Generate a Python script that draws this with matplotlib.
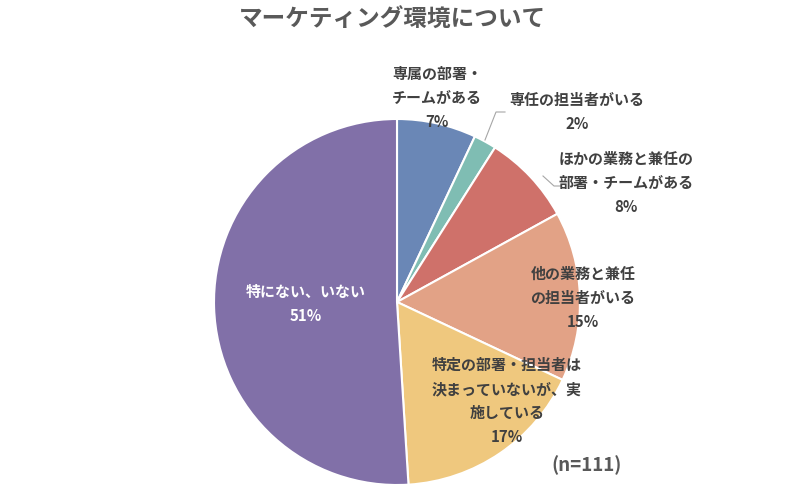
import matplotlib.pyplot as plt

plt.rcParams['font.family'] = ['Noto Sans CJK JP', 'DejaVu Sans']

labels = ['専属の部署・\nチームがある', '専任の担当者がいる', 'ほかの業務と兼任の\n部署・チームがある',
          '他の業務と兼任\nの担当者がいる', '特定の部署・担当者は\n決まっていないが、実\n施している',
          '特にない、いない']
values = [7, 2, 8, 15, 17, 51]
colors = ['#6a87b6', '#7fbdb3', '#cf716a', '#e2a286', '#efc87e', '#8170a8']

# label centres in pixel coords (x, y from top)
label_pos = [(437, 98), (577, 112), (626, 183), (583, 298), (507, 401), (306, 304)]
label_col = ['#404040'] * 5 + ['white']

W, H = 800, 492
fig = plt.figure(figsize=(8, 4.92), dpi=100)
ax = fig.add_axes([0, 0, 1, 1])

ax.pie(values, colors=colors, startangle=90, counterclock=False,
       center=(397, H - 302), radius=183,
       wedgeprops=dict(edgecolor='white', linewidth=1.5))
ax.set_xlim(0, W)
ax.set_ylim(0, H)
ax.set_aspect('equal')
ax.axis('off')

for lab, v, (px, py), c in zip(labels, values, label_pos, label_col):
    ax.text(px, H - py, f'{lab}\n{v}%', ha='center', va='center', fontsize=10.8,
            fontweight='bold', color=c, linespacing=1.62)

# leader lines
ax.plot([485, 496, 505], [H - 140, H - 112, H - 112], color='#a6a6a6', lw=0.8)
ax.plot([543, 554, 562], [H - 176, H - 186, H - 186], color='#a6a6a6', lw=0.8)

ax.text(392, H - 20, 'マーケティング環境について', ha='center', va='center',
        fontsize=17, fontweight='bold', color='#595959')
ax.text(587, H - 465, '(n=111)', ha='center', va='center', fontsize=13.5,
        fontweight='bold', color='#595959')

fig.savefig('out.png', dpi=100)
